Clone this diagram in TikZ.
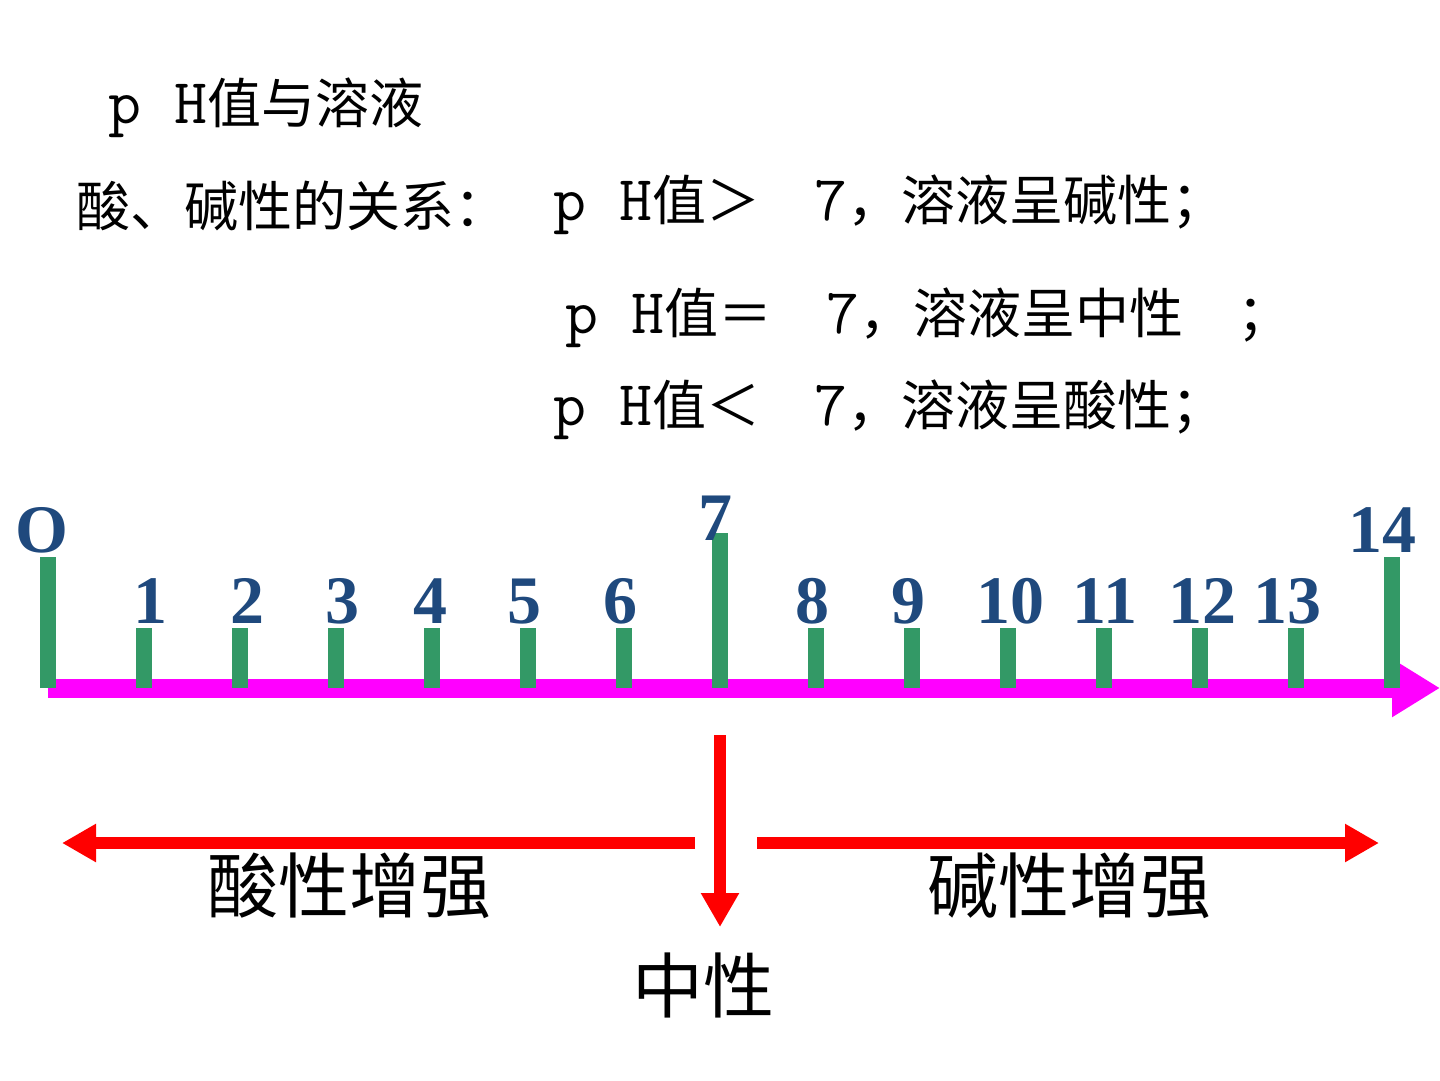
\documentclass[tikz,border=0pt]{standalone}
\usepackage{fontspec}
\setmainfont{Liberation Serif}
\newfontfamily\cjk{Noto Sans CJK SC}
\usetikzlibrary{arrows.meta,positioning}
\definecolor{tickgreen}{RGB}{51,153,102}
\definecolor{numblue}{RGB}{31,73,125}
\definecolor{axispink}{RGB}{255,0,255}
\tikzset{
  txt/.style={anchor=west,inner sep=0pt,font=\cjk\fontsize{54}{60}\selectfont,text height=47.5pt,text depth=6.5pt},
  big/.style={anchor=west,inner sep=0pt,font=\cjk\fontsize{71}{80}\selectfont,text height=62.5pt,text depth=8.5pt},
  num/.style={anchor=base,inner sep=0pt,text=numblue,font=\bfseries\fontsize{68}{70}\selectfont},
  tick/.style={draw=tickgreen,line width=16pt},
  axis/.style={draw=axispink,line width=19pt,-{Triangle[length=48pt,width=55pt]}},
  redarr/.style={draw=red,line width=12pt,-{Triangle[length=34pt,width=36pt]}}
}
\newcommand\lat[1]{{\ttfamily\fontsize{64}{64}\selectfont #1}}
\begin{document}
\begin{tikzpicture}[x=1pt,y=-1pt]
\useasboundingbox (0,0) rectangle (1440,1080);
\node[txt] (title) at (108,103) {\lat{p H}值与溶液};
\node[txt] (rel) at (76,206) {酸、碱性的关系：};
\node[txt] (gt) at (553,200) {\lat{p H}值＞　\lat{7}，溶液呈碱性；};
\node[txt] (eq) at (565,313) {\lat{p H}值＝　\lat{7}，溶液呈中性　；};
\node[txt] (lt) at (553,405) {\lat{p H}值＜　\lat{7}，溶液呈酸性；};

\coordinate (a0) at (48,688);
\coordinate (a1) at (1440,688);
\draw[axis] (a0) -- (a1);
\foreach \i in {0,...,14} \coordinate (p\i) at (48+96*\i,688);
\foreach \i in {1,...,6,8,9,...,13} \draw[tick] (p\i) -- ++(0,-60);
\draw[tick] (p0) -- ++(0,-131);
\draw[tick] (p14) -- ++(0,-131);
\draw[tick] (p7) -- ++(0,-155);

\foreach \n/\x in {1/150,2/247,3/342,4/430,5/524,6/620,8/812,9/908,10/1010,11/1105,12/1202,13/1287}
  \node[num] (n\n) at (\x,623) {\n};
\node[num] (n0) at (42,552) {O};
\node[num] (n7) at (715,540) {7};
\node[num] (n14) at (1382,552) {14};

\coordinate (v0) at (720,735);
\coordinate (v1) at (720,927);
\coordinate (l0) at (695,843);
\coordinate (l1) at (62,843);
\coordinate (r0) at (757,843);
\coordinate (r1) at (1379,843);
\draw[redarr] (v0) -- (v1);
\draw[redarr] (l0) -- (l1);
\draw[redarr] (r0) -- (r1);

\node[big] (acid) at (207,885) {酸性增强};
\node[big] (alk) at (927,885) {碱性增强};
\node[big] (neutral) at (632,985) {中性};
\end{tikzpicture}
\end{document}
